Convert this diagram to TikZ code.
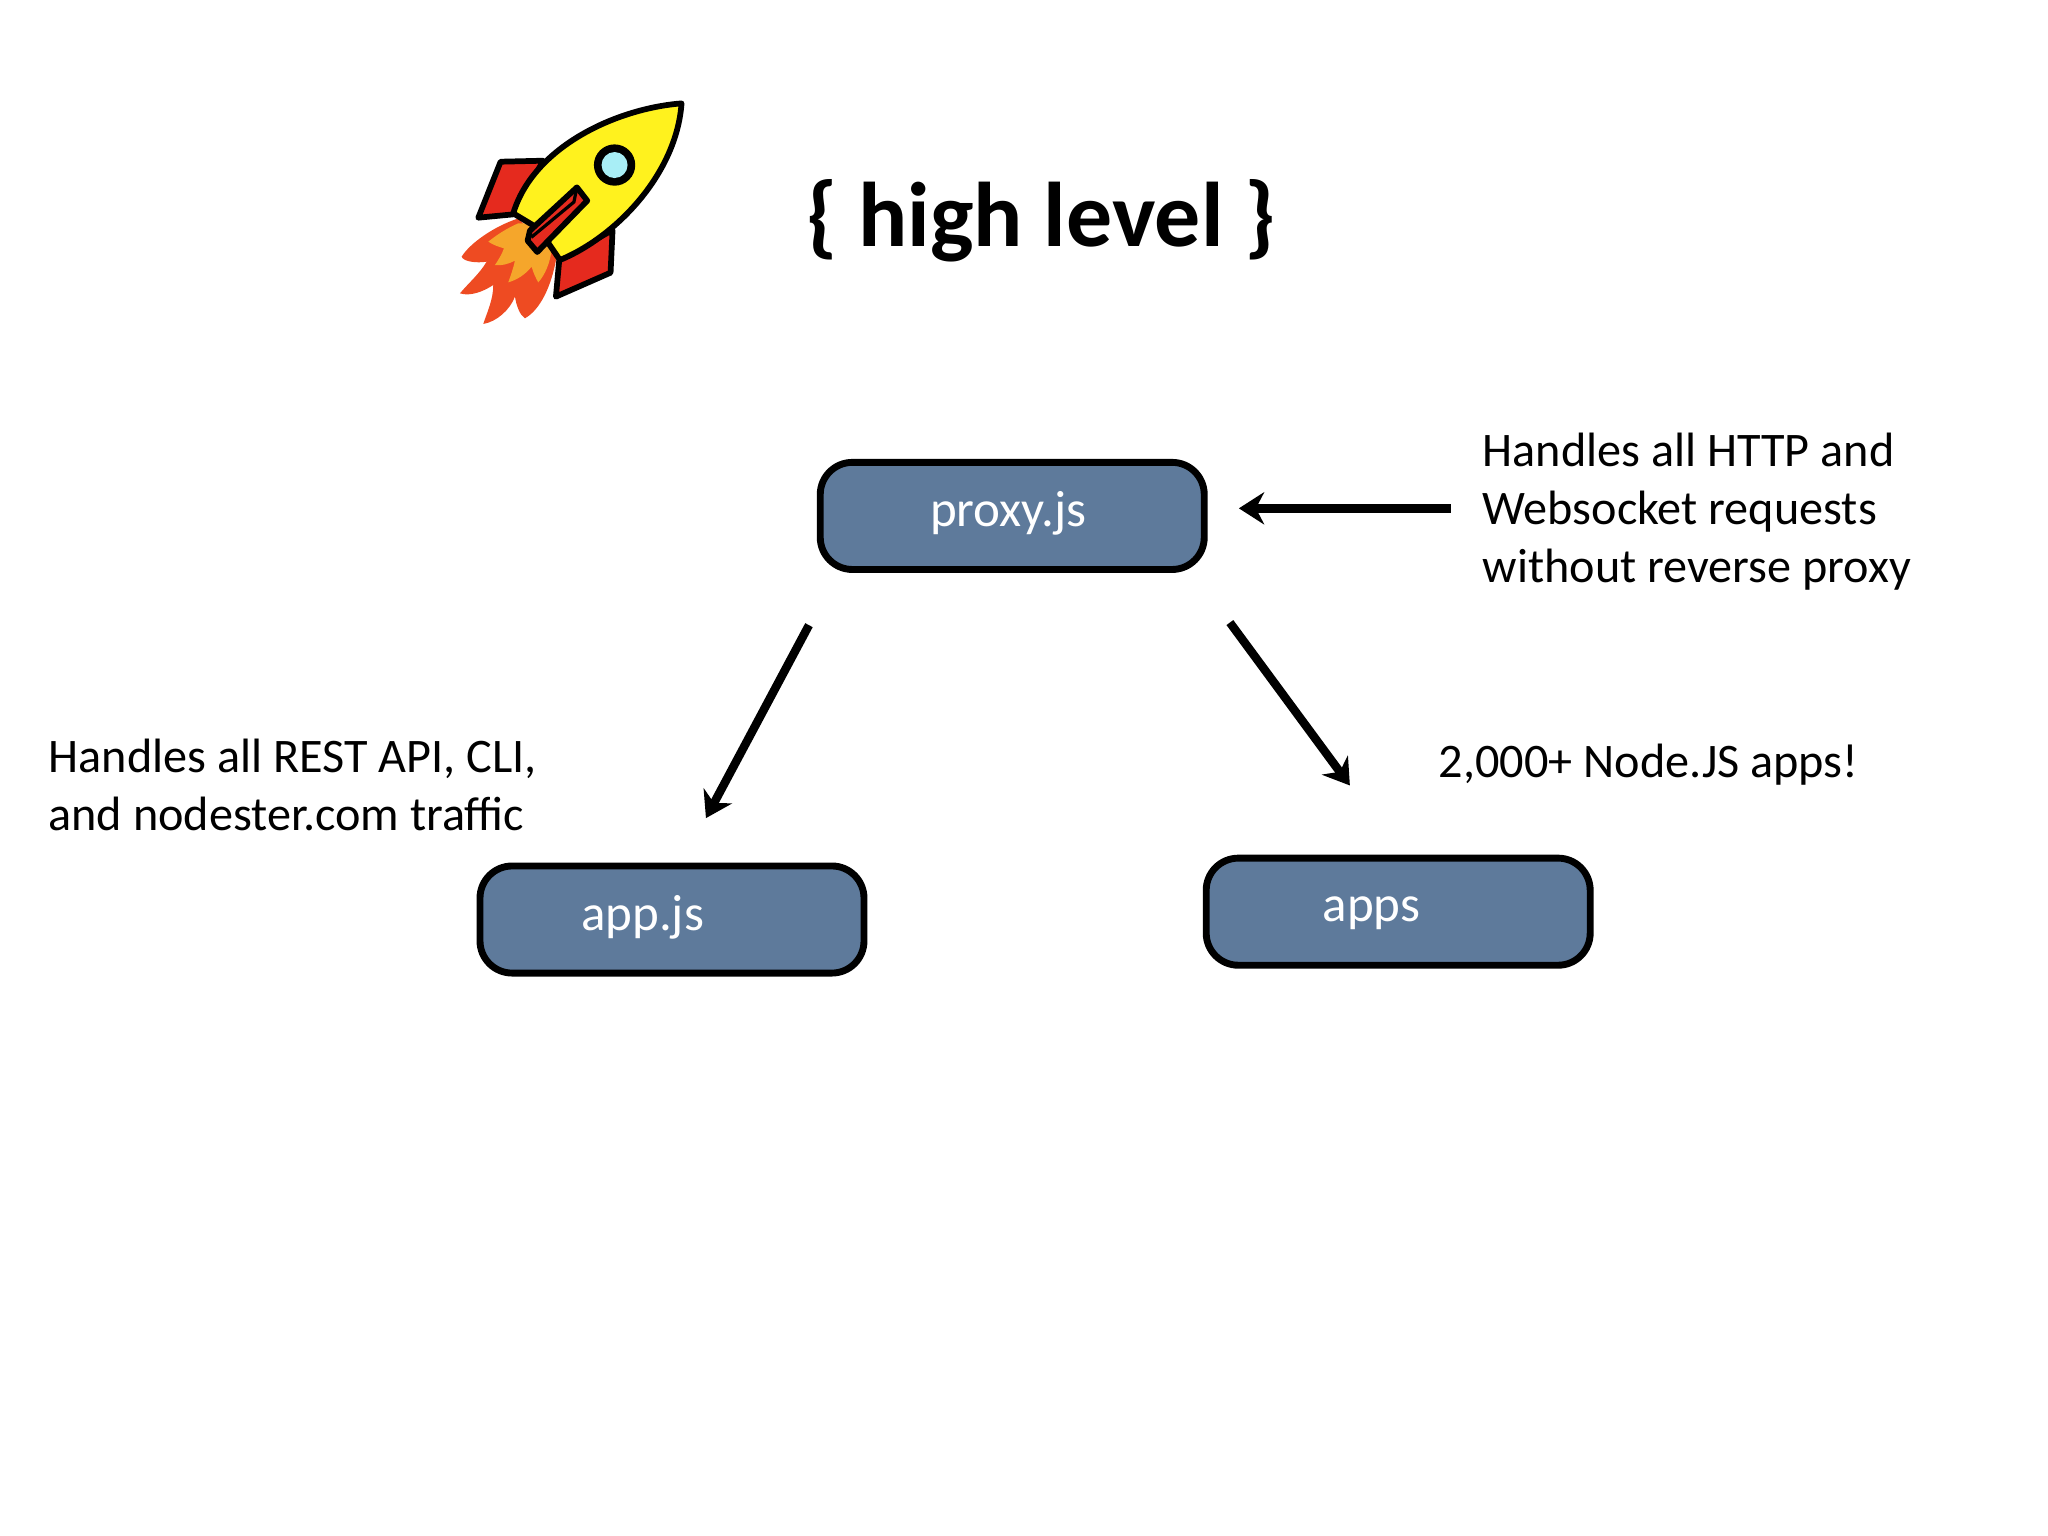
\documentclass[tikz,border=0pt]{standalone}
\usepackage{fontspec}
\setmainfont{Carlito}
\usetikzlibrary{calc,arrows.meta}

\definecolor{boxblue}{HTML}{5E7A9B}
\definecolor{finred}{HTML}{E52A1E}
\definecolor{flameout}{HTML}{EE4B22}
\definecolor{flamein}{HTML}{F5A62B}
\definecolor{hullyellow}{HTML}{FFF21E}
\definecolor{glass}{HTML}{A8EEF6}

\tikzset{
	procbox/.style={draw=black,fill=boxblue,line width=1.5pt,rounded corners=7pt,minimum width=29.4mm,minimum height=8.2mm,inner sep=0pt},
	boxtext/.style={text=white,inner sep=0pt,font=\fontsize{11.1}{13}\selectfont},
	note/.style={align=left,inner sep=0pt,font=\fontsize{10.5}{12.66}\selectfont},
	arrow/.style={-{Stealth[length=5.5pt,width=7pt,inset=1.8pt]},line width=1.85pt},
	rocketline/.style={draw=black,line width=1.25pt,line join=round},
}

\begin{document}
\begin{tikzpicture}[x=0.1mm,y=-0.1mm]
	\useasboundingbox (0,0) rectangle (1568,1176);

	% rocket
	\begin{scope}[shift={(329.2,61.3)},x=0.02552mm,y=-0.02552mm]
		\fill[flameout] (265,415) .. controls (190,440) and (120,490) .. (95,530) .. controls (100,545) and (140,550) .. (170,545) .. controls (150,580) and (115,610) .. (90,640) .. controls (120,650) and (160,635) .. (190,615) .. controls (190,660) and (170,700) .. (160,732) .. controls (200,725) and (240,690) .. (255,650) .. controls (260,680) and (270,705) .. (285,715) .. controls (330,690) and (365,620) .. (380,530) -- cycle;
		\fill[flamein] (265,430) .. controls (230,445) and (200,465) .. (175,485) .. controls (190,495) and (205,500) .. (222,505) .. controls (215,525) and (205,540) .. (195,555) .. controls (215,558) and (235,552) .. (255,542) .. controls (250,565) and (243,585) .. (235,607) .. controls (260,600) and (285,585) .. (305,560) .. controls (310,578) and (318,595) .. (325,607) .. controls (345,585) and (360,550) .. (365,510) -- (300,430) -- cycle;
		\draw[rocketline,fill=finred] (212,245) -- (340,242) -- (250,403) -- (145,413) -- cycle;
		\draw[rocketline,fill=finred] (548,450) -- (542,578) -- (378,650) -- (388,540) -- cycle;
		\draw[rocketline,fill=hullyellow] (755,70) .. controls (560,85) and (310,200) .. (250,400) -- (325,445) -- (390,540) .. controls (560,470) and (740,280) .. (755,70) -- cycle;
		\draw[rocketline,fill=finred] (441,322) -- (472,362) -- (322,516) -- (293,482) -- (300,452) -- cycle;
		\draw[black,line width=0.7pt] (304,472) -- (432,366) -- (441,322);
		\fill (554,255) circle (62);
		\fill[glass] (554,255) circle (39);
	\end{scope}

	\node[inner sep=0pt,font=\fontsize{20}{24}\selectfont\bfseries] (title) at (797,169) {\{ high level \}};

	\node[procbox] (proxy) at (775,395) {};
	\node[procbox] (appjs) at (514.5,704) {};
	\node[procbox] (apps) at (1070.5,698) {};

	\node[boxtext] (proxyText) at (772,393) {proxy.js};
	\node[boxtext] (appjsText) at (492,702) {app.js};
	\node[boxtext] (appsText) at (1050,699) {apps};

	\node[note,anchor=west] (noteHttp) at (1134.5,392) {Handles all HTTP and\\Websocket requests\\without reverse proxy};
	\node[note,anchor=west] (noteRest) at (36.5,601) {Handles all REST API, CLI,\\and nodester.com traffic};
	\node[note,anchor=west] (noteApps) at (1101,585.5) {2,000+ Node.JS apps!};

	\coordinate (proxyLeft) at ($(proxy.south west)+(-6,40)$);
	\coordinate (proxyRight) at ($(proxy.south east)+(17,38)$);
	\coordinate (appjsTop) at ($(appjs.north)+(26,-34)$);
	\coordinate (appsTop) at ($(apps.north)+(-37,-53)$);

	\draw[arrow] (proxyLeft) -- (appjsTop);
	\draw[arrow] (proxyRight) -- (appsTop);
	\draw[arrow,shorten >=6.8pt,shorten <=6.8pt] ([yshift=0.8pt]noteHttp.west) -- ([yshift=0.8pt]noteHttp.west -| proxy.east);

\end{tikzpicture}
\end{document}
